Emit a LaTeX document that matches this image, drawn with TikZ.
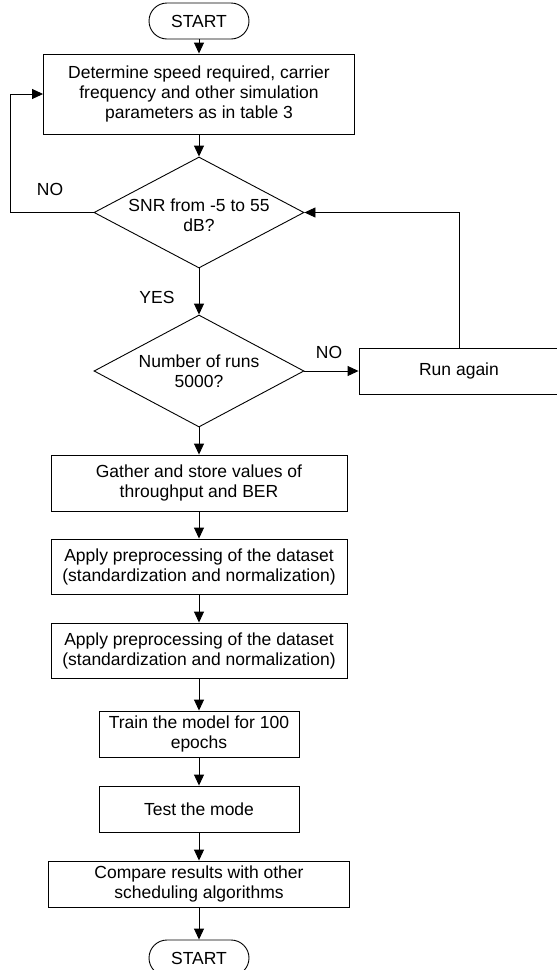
\documentclass[tikz,border=0pt]{standalone}
\usepackage{fontspec}
\setmainfont{Liberation Sans}
\usetikzlibrary{shapes.geometric,arrows.meta}
\begin{document}
\begin{tikzpicture}[x=1pt,y=-1pt,
  every node/.style={font=\fontsize{17.5}{20}\selectfont, inner sep=0pt, align=center},
  proc/.style={draw, rectangle, line width=0.9pt},
  term/.style={draw, rectangle, rounded corners=18pt, minimum width=100pt, minimum height=36pt, line width=0.9pt},
  dec/.style={draw, diamond, aspect=1.88, minimum width=210pt, minimum height=111pt, line width=0.9pt},
  arr/.style={-{Triangle[length=11pt,width=10pt]}, line width=0.9pt}
]
\useasboundingbox (0,0) rectangle (557,970);

\node[term] (start) at (199,21) {START};
\node[proc, minimum width=311pt, minimum height=80pt] (b1) at (199,94)
  {Determine speed required, carrier\\frequency and other simulation\\parameters as in table 3};
\node[dec] (d1) at (199,212.5) {};
\node (d1t) at (199,215) {SNR from -5 to 55\\dB?};
\node[dec, minimum height=112pt] (d2) at (199,371) {};
\node (d2t) at (199,371) {Number of runs\\5000?};
\node[proc, minimum width=200pt, minimum height=46pt] (run) at (459,371) {Run again};
\node[proc, minimum width=296pt, minimum height=56pt] (gath) at (199,483)
  {Gather and store values of\\throughput and BER};
\node[proc, minimum width=296pt, minimum height=55pt] (ap1) at (199,566.5)
  {Apply preprocessing of the dataset\\(standardization and normalization)};
\node[proc, minimum width=296pt, minimum height=55pt] (ap2) at (199,650.5)
  {Apply preprocessing of the dataset\\(standardization and normalization)};
\node[proc, minimum width=200pt, minimum height=46pt] (train) at (199,734)
  {Train the model for 100\\epochs};
\node[proc, minimum width=200pt, minimum height=46pt] (test) at (199,809)
  {Test the mode};
\node[proc, minimum width=301pt, minimum height=46pt] (comp) at (199,884)
  {Compare results with other\\scheduling algorithms};
\node[term] (end) at (199,958) {START};

\node (no1) at (50,189) {NO};
\node (yes) at (157,297) {YES};
\node (no2) at (329,352) {NO};

\coordinate (lc) at (10,212.5);

\draw[arr] (start) -- (b1);
\draw[arr] (b1) -- (d1.north);
\draw[arr] (d1.south) -- (d2.north);
\draw[arr] (d2.south) -- (gath);
\draw[arr] (gath) -- (ap1);
\draw[arr] (ap1) -- (ap2);
\draw[arr] (ap2) -- (train);
\draw[arr] (train) -- (test);
\draw[arr] (test) -- (comp);
\draw[arr] (comp) -- (end);
\draw[arr] (d1.west) -- (lc) |- (b1.west);
\draw[arr] (d2.east) -- (run.west);
\draw[arr] (run.north) |- (d1.east);
\end{tikzpicture}
\end{document}
